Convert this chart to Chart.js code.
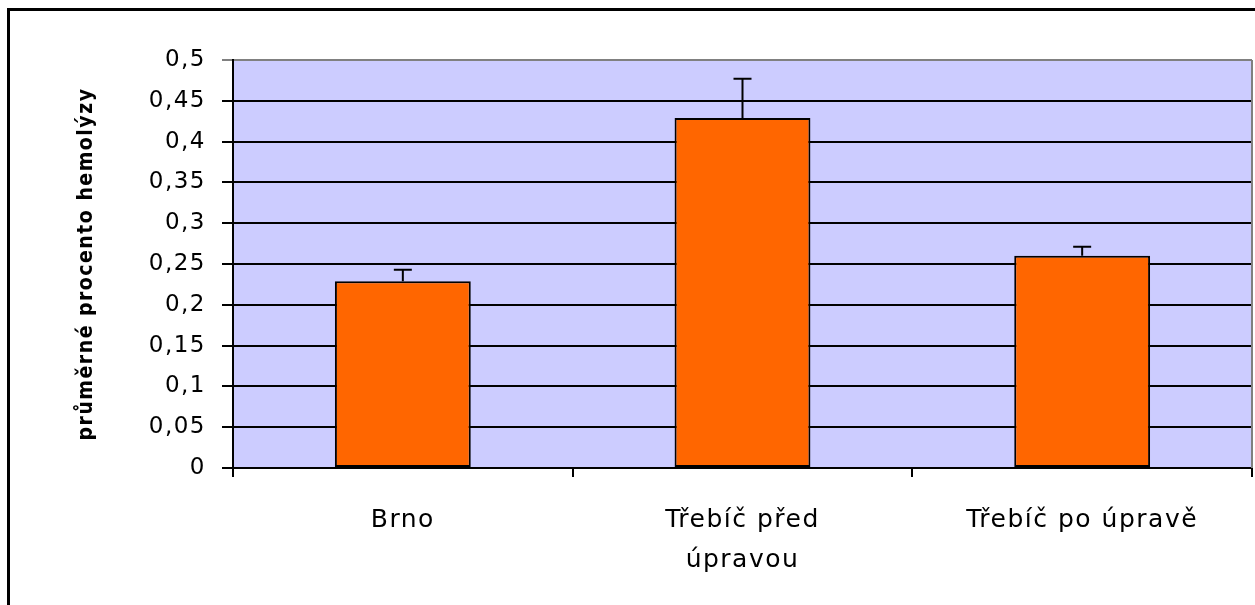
<!DOCTYPE html>
<html lang="cs">
<head>
<meta charset="UTF-8">
<title>Hemolýza</title>
<style>
  html, body { margin: 0; padding: 0; background: #fff; }
  #wrap { width: 1255px; height: 605px; position: relative; }
</style>
<script src="https://cdn.jsdelivr.net/npm/chart.js"></script>
</head>
<body>
<div id="wrap"><canvas id="chart"></canvas></div>
<script>
// data
const categories = ['Brno', ['Třebíč před', 'úpravou'], 'Třebíč po úpravě'];
const means = [0.229, 0.429, 0.260];
const errPlus = [0.014, 0.048, 0.011];
const yTickLabels = ['0', '0,05', '0,1', '0,15', '0,2', '0,25', '0,3', '0,35', '0,4', '0,45', '0,5'];

const FONT = "'DejaVu Sans', sans-serif";
const SPACING = '1.5px'; // the original font runs wider than DejaVu

// white page, black frame, lavender plot background
const backdrop = {
  id: 'backdrop',
  beforeUpdate(chart) {
    chart.ctx.letterSpacing = SPACING;
  },
  beforeDraw(chart) {
    const { ctx, chartArea: a } = chart;
    ctx.save();
    ctx.fillStyle = '#fff';
    ctx.fillRect(0, 0, chart.width, chart.height);
    ctx.strokeStyle = '#000';
    ctx.lineWidth = 3;
    ctx.strokeRect(8.5, 9.5, 1270, 620);
    ctx.fillStyle = '#CCCCFF';
    ctx.fillRect(a.left, a.top, a.right - a.left, a.bottom - a.top);
    ctx.restore();
    ctx.letterSpacing = SPACING;
  },
  afterDraw(chart) {
    const { ctx, chartArea: a } = chart;
    ctx.save();
    ctx.strokeStyle = '#808080';
    ctx.lineWidth = 2;
    ctx.beginPath();
    ctx.moveTo(a.right, a.top);
    ctx.lineTo(a.right, a.bottom);
    ctx.stroke();
    ctx.restore();
  }
};

// upper error bars only
const errorBars = {
  id: 'errorBars',
  afterDatasetsDraw(chart) {
    const { ctx } = chart;
    const y = chart.scales.y;
    const meta = chart.getDatasetMeta(0);
    ctx.save();
    ctx.strokeStyle = '#000';
    ctx.lineWidth = 2;
    meta.data.forEach((bar, i) => {
      const top = y.getPixelForValue(means[i] + errPlus[i]);
      ctx.beginPath();
      ctx.moveTo(bar.x, bar.y);
      ctx.lineTo(bar.x, top);
      ctx.moveTo(bar.x - 9, top);
      ctx.lineTo(bar.x + 9, top);
      ctx.stroke();
    });
    ctx.restore();
  }
};

new Chart(document.getElementById('chart'), {
  type: 'bar',
  data: {
    labels: categories,
    datasets: [{
      data: means,
      backgroundColor: '#FF6600',
      borderColor: '#000',
      borderWidth: 2,
      borderSkipped: false,
      barPercentage: 1,
      categoryPercentage: 0.4
    }]
  },
  options: {
    responsive: true,
    maintainAspectRatio: false,
    animation: false,
    layout: { padding: { left: 0, right: 3, top: 60, bottom: 0 } },
    plugins: {
      legend: { display: false },
      tooltip: { enabled: false }
    },
    scales: {
      x: {
        offset: true,
        afterFit: s => { s.height = 137; },
        grid: {
          offset: true,
          drawOnChartArea: false,
          color: '#000',
          lineWidth: 2,
          tickLength: 9
        },
        border: { color: '#000', width: 2 },
        ticks: {
          color: '#000',
          padding: 23,
          maxRotation: 0,
          font: { family: FONT, size: 25, lineHeight: 1.6 }
        }
      },
      y: {
        min: 0,
        max: 0.5,
        afterFit: s => { s.width = 233; },
        grid: {
          color: ctx => (ctx.tick && ctx.tick.value === 0.5 ? '#808080' : '#000'),
          lineWidth: 2,
          tickLength: 11
        },
        border: { color: '#000', width: 2 },
        ticks: {
          stepSize: 0.05,
          color: '#000',
          padding: 16,
          font: { family: FONT, size: 23 },
          callback: (v, i) => yTickLabels[i]
        },
        title: {
          display: true,
          text: 'průměrné procento hemolýzy',
          color: '#000',
          padding: { top: 74, bottom: 0 },
          font: { family: "'DejaVu Sans Condensed', 'DejaVu Sans', sans-serif", size: 21, weight: 'bold' }
        }
      }
    }
  },
  plugins: [backdrop, errorBars]
});
</script>
</body>
</html>
